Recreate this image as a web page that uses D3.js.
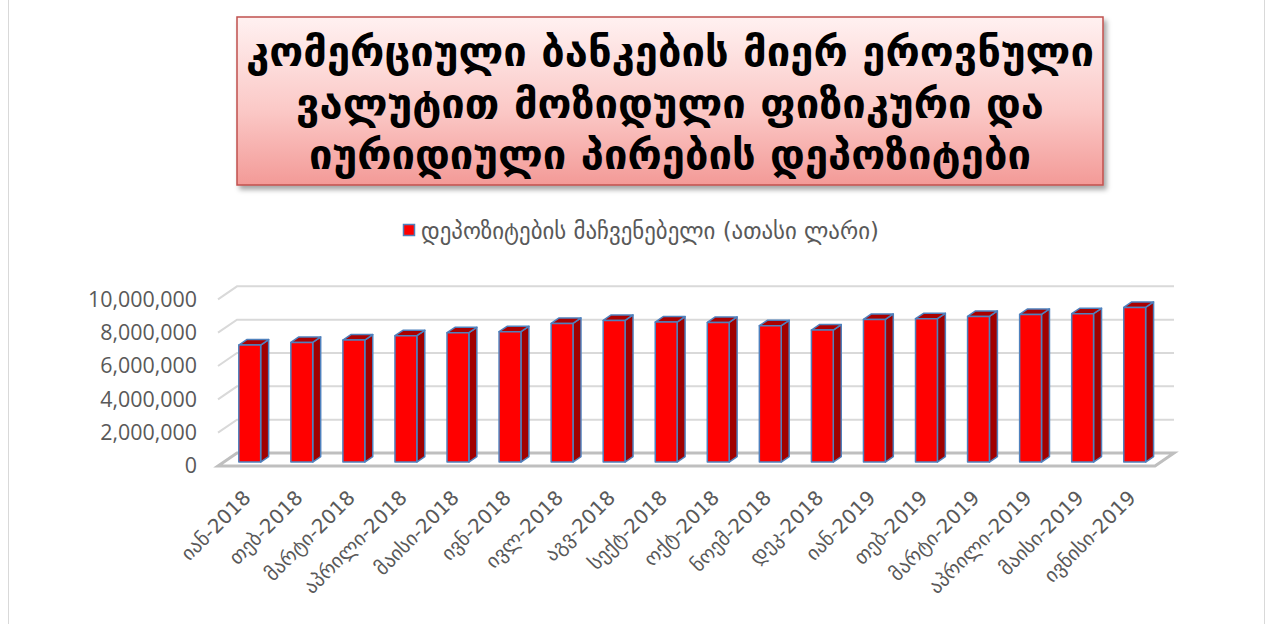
<!DOCTYPE html>
<html>
<head>
<meta charset="utf-8">
<script src="https://cdn.jsdelivr.net/npm/d3@7"></script>
<style>
  html, body { margin: 0; padding: 0; background: #ffffff; }
  svg { display: block; }
</style>
</head>
<body>
<svg id="chart" width="1273" height="624"></svg>
<script>
// Deposits attracted by commercial banks in national currency (thousand GEL)
const titleLines = [
  "კომერციული ბანკების მიერ ეროვნული",
  "ვალუტით მოზიდული ფიზიკური და",
  "იურიდიული პირების დეპოზიტები"
];
const legendLabel = "დეპოზიტების მაჩვენებელი (ათასი ლარი)";
const months = [
  "იან-2018", "თებ-2018", "მარტი-2018", "აპრილი-2018", "მაისი-2018", "ივნ-2018",
  "ივლ-2018", "აგვ-2018", "სექტ-2018", "ოქტ-2018", "ნოემ-2018", "დეკ-2018",
  "იან-2019", "თებ-2019", "მარტი-2019", "აპრილი-2019", "მაისი-2019", "ივნისი-2019"
];
const deposits = [
  7020000, 7180000, 7320000, 7580000, 7760000, 7820000,
  8320000, 8500000, 8400000, 8380000, 8180000, 7920000,
  8560000, 8600000, 8740000, 8860000, 8900000, 9280000
];
const yTicks = [0, 2000000, 4000000, 6000000, 8000000, 10000000];

const svg = d3.select("#chart");

// scale a text selection's font so its widest member spans the given width
function fitWidth(sel, baseSize, width) {
  sel.attr("font-size", baseSize);
  const widest = d3.max(sel.nodes(), n => n.getComputedTextLength());
  sel.attr("font-size", (baseSize * width / widest).toFixed(2));
}

// ---- outer chart frame ----
svg.append("rect")
  .attr("x", 8.5).attr("y", -20).attr("width", 1256).attr("height", 700)
  .attr("fill", "#ffffff").attr("stroke", "#d9d9d9").attr("stroke-width", 1);

// ---- defs: title gradient + shadow ----
const defs = svg.append("defs");
const grad = defs.append("linearGradient").attr("id", "titleGrad")
  .attr("x1", 0).attr("y1", 0).attr("x2", 0).attr("y2", 1);
grad.append("stop").attr("offset", "0%").attr("stop-color", "#fff1f1");
grad.append("stop").attr("offset", "55%").attr("stop-color", "#fbc9c7");
grad.append("stop").attr("offset", "100%").attr("stop-color", "#f39a97");
const shadow = defs.append("filter").attr("id", "boxShadow")
  .attr("x", "-5%").attr("y", "-10%").attr("width", "115%").attr("height", "130%");
shadow.append("feDropShadow").attr("dx", 3).attr("dy", 4).attr("stdDeviation", 2.5)
  .attr("flood-color", "#000").attr("flood-opacity", 0.35);

// ---- title box ----
const tb = { x: 237, y: 17, w: 866, h: 168 };
svg.append("rect")
  .attr("x", tb.x).attr("y", tb.y).attr("width", tb.w).attr("height", tb.h)
  .attr("fill", "url(#titleGrad)").attr("stroke", "#c0504d").attr("stroke-width", 1.5)
  .attr("filter", "url(#boxShadow)");

const titleTexts = svg.append("g")
  .attr("font-family", "'DejaVu Sans', sans-serif")
  .attr("font-weight", "bold")
  .attr("fill", "#000000")
  .attr("text-anchor", "middle")
  .selectAll("text").data(titleLines).join("text")
  .attr("x", tb.x + tb.w / 2)
  .attr("y", (d, i) => 66 + i * 51.5)
  .text(d => d);
fitWidth(titleTexts, 40, 848);

// ---- plot geometry (oblique 3D projection) ----
const frontLeft = 218, frontRight = 1155, floorY = 466;
const depthDX = 19, depthDY = -13;
const y = d3.scaleLinear().domain([0, 10000000]).range([0, 166.7]);
const x = d3.scaleBand().domain(months).range([frontLeft, frontRight])
  .paddingInner(0.58).paddingOuter(0.29);

// project (px, value, depth fraction) into screen coordinates
const P = (px, v, d) => [px + d * depthDX, floorY - y(v) + d * depthDY];
const poly = pts => pts.map(p => p.join(",")).join(" ");

// gridlines on back wall with left wall diagonals
const gridG = svg.append("g");
yTicks.filter(t => t > 0).forEach(t => {
  const a = P(frontLeft, t, 0), b = P(frontLeft, t, 1), c = P(frontRight, t, 1);
  gridG.append("polyline")
    .attr("points", poly([a, b, c]))
    .attr("fill", "none").attr("stroke", "#d9d9d9").attr("stroke-width", 2);
});

// floor
svg.append("polygon")
  .attr("points", poly([P(frontLeft, 0, 0), P(frontRight, 0, 0), P(frontRight, 0, 1), P(frontLeft, 0, 1)]))
  .attr("fill", "#ffffff").attr("stroke", "#bfbfbf").attr("stroke-width", 3)
  .attr("stroke-linejoin", "miter");

// y axis labels on front plane
const yLabels = svg.append("g")
  .attr("font-family", "'Open Sans', 'DejaVu Sans', sans-serif")
  .attr("fill", "#595959").attr("text-anchor", "end")
  .selectAll("text").data(yTicks).join("text")
  .attr("x", 197)
  .attr("y", d => floorY - y(d))
  .attr("dy", "0.35em")
  .text(d => d3.format(",")(d));
fitWidth(yLabels, 18, 109);

// bars
const d0 = 0.3, d1 = 0.72;
const barG = svg.append("g").attr("stroke", "#4f81bd").attr("stroke-width", 1.5)
  .attr("stroke-linejoin", "round");
months.forEach((m, i) => {
  const v = deposits[i];
  const xl = x(m), xr = x(m) + x.bandwidth();
  // right side face
  barG.append("polygon")
    .attr("points", poly([P(xr, 0, d0), P(xr, 0, d1), P(xr, v, d1), P(xr, v, d0)]))
    .attr("fill", "#a00000");
  // top face
  barG.append("polygon")
    .attr("points", poly([P(xl, v, d0), P(xr, v, d0), P(xr, v, d1), P(xl, v, d1)]))
    .attr("fill", "#aa0000");
  // front face
  barG.append("polygon")
    .attr("points", poly([P(xl, 0, d0), P(xr, 0, d0), P(xr, v, d0), P(xl, v, d0)]))
    .attr("fill", "#ff0000");
});

// x axis labels, rotated
const xLabels = svg.append("g")
  .attr("font-family", "'DejaVu Sans', sans-serif")
  .attr("fill", "#595959").attr("text-anchor", "end")
  .selectAll("text").data(months).join("text")
  .attr("transform", d => `translate(${x(d) + x.bandwidth() / 2 + 8},${499}) rotate(-45)`)
  .text(d => d);
fitWidth(xLabels, 16, 136);

// legend
const lg = svg.append("g");
lg.append("rect").attr("x", 403.5).attr("y", 224.5).attr("width", 11).attr("height", 11)
  .attr("fill", "#ff0000").attr("stroke", "#4f81bd").attr("stroke-width", 1.5);
const legendText = lg.append("text").attr("x", 421).attr("y", 231).attr("dy", "0.35em")
  .attr("font-family", "'DejaVu Sans', sans-serif")
  .attr("fill", "#595959").text(legendLabel);
fitWidth(legendText, 17, 458);
</script>
</body>
</html>
